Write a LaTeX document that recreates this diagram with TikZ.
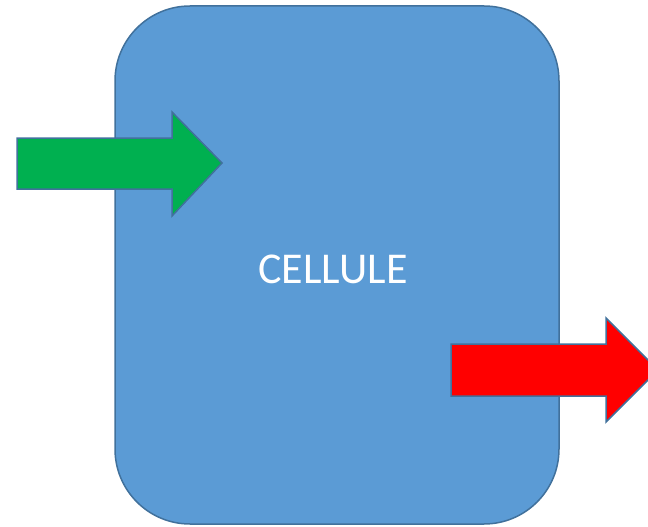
\documentclass[tikz,border=0pt]{standalone}
\usepackage{fontspec}
\setmainfont{Carlito}
\definecolor{cellfill}{HTML}{5B9BD5}
\definecolor{cellline}{HTML}{41719C}
\definecolor{ingreen}{HTML}{00B050}
\definecolor{outred}{HTML}{FF0000}
\begin{document}
\begin{tikzpicture}[x=1pt,y=-1pt,
  cellbox/.style={draw=cellline,fill=cellfill,line width=1.5pt,rounded corners=75pt},
  arrowshape/.style={draw=cellline,line width=1.5pt,line join=miter}]
\useasboundingbox (0,0) rectangle (648,527);
\clip (0,0) rectangle (648,527);
\draw[cellbox] (115,6) rectangle (559,524);
\node[text=white,font=\fontsize{44}{50}\selectfont,anchor=base,inner sep=0pt] (cell) at (333,283) {CELLULE};
\draw[arrowshape,fill=ingreen] (17,138) -- (172,138) -- (172,112) -- (222,163) -- (172,216) -- (172,189) -- (17,189) -- cycle;
\draw[arrowshape,fill=outred] (451,344) -- (606,344) -- (606,318) -- (658,370) -- (606,422) -- (606,396) -- (451,396) -- cycle;
\end{tikzpicture}
\end{document}
